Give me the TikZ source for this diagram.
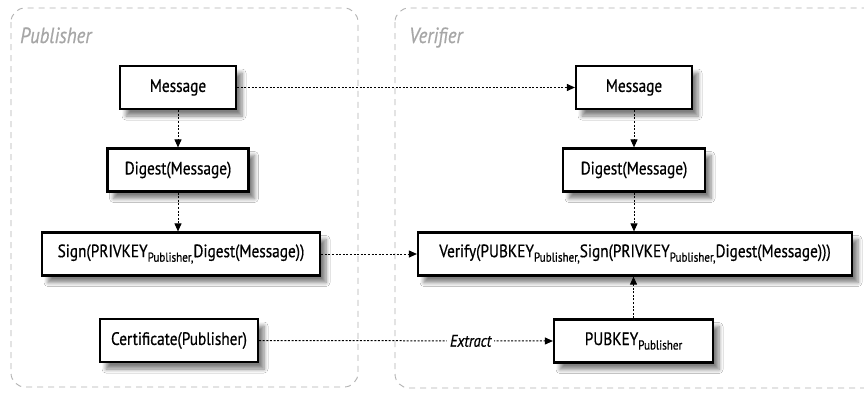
\documentclass[tikz,border=0pt]{standalone}
\usepackage{fontspec}
\setmainfont{PT Sans}[FakeStretch=0.85, FakeBold=0.6]
\usetikzlibrary{arrows.meta,shadows.blur}
\newcommand\pubsub[1]{\raisebox{-4.5pt}{\fontsize{13}{13}\selectfont #1}}
\tikzset{
  x=1pt, y=-1pt,
  box/.style={draw=black, line width=2.2pt, fill=white, inner sep=0pt,
    minimum height=43pt, font=\fontsize{18}{21}\selectfont,
    blur shadow={shadow xshift=6pt, shadow yshift=-7pt, shadow blur steps=6,
      shadow blur radius=4pt, shadow opacity=50}},
  conn/.style={line width=1pt, dash pattern=on 2pt off 1.6pt,
    -{Triangle[length=8pt,width=7pt]}},
  region/.style={draw=black!30, line width=0.9pt, dash pattern=on 6pt off 5pt,
    rounded corners=14pt},
  regionlabel/.style={text=black!35, font=\fontsize{22}{25}\selectfont\itshape,
    anchor=base west, inner sep=0pt}
}
\begin{document}
\begin{tikzpicture}
\useasboundingbox (0,0) rectangle (864,394);
\clip (0,0) rectangle (864,394);
\fill[white] (0,0) rectangle (864,394);
% regions
\draw[region] (11,8) rectangle (358,387);
\draw[region] (395,8) rectangle (900,388);
\node[regionlabel] (publbl) at (20,43) {Publisher};
\node[regionlabel] (verlbl) at (409,43) {Verifier};
% publisher nodes
\node[box, minimum width=116pt] (pm) at (178,87.5) {Message};
\node[box, minimum width=141pt] (pd) at (178,170) {Digest(Message)};
\node[box, minimum width=278pt] (ps) at (181,254) {Sign(PRIVKEY\pubsub{Publisher,}Digest(Message))};
\node[box, minimum width=158pt] (pc) at (179,340.5) {Certificate(Publisher)};
% verifier nodes
\node[box, minimum width=116pt] (vm) at (634,87.5) {Message};
\node[box, minimum width=142pt] (vd) at (634,170) {Digest(Message)};
\node[box, minimum width=434pt] (vv) at (635,254) {Verify(PUBKEY\pubsub{Publisher,}Sign(PRIVKEY\pubsub{Publisher,}Digest(Message)))};
\node[box, minimum width=159pt] (vk) at (633.5,341) {PUBKEY\pubsub{Publisher}};
% connectors
\draw[conn] (pm.east) -- (vm.west);
\draw[conn] (pm.south) -- (pd.north);
\draw[conn] (pd.south) -- (pd.south |- ps.north);
\draw[conn] (ps.east) -- (vv.west);
\draw[conn] (pc.east) -- node[pos=0.72, fill=white, inner sep=3pt, font=\fontsize{17}{20}\selectfont\itshape] (ext) {Extract} (vk.west);
\draw[conn] (vm.south) -- (vd.north);
\draw[conn] (vd.south) -- (vd.south |- vv.north);
\draw[conn] (vk.north) -- (vk.north |- vv.south);
\end{tikzpicture}
\end{document}
